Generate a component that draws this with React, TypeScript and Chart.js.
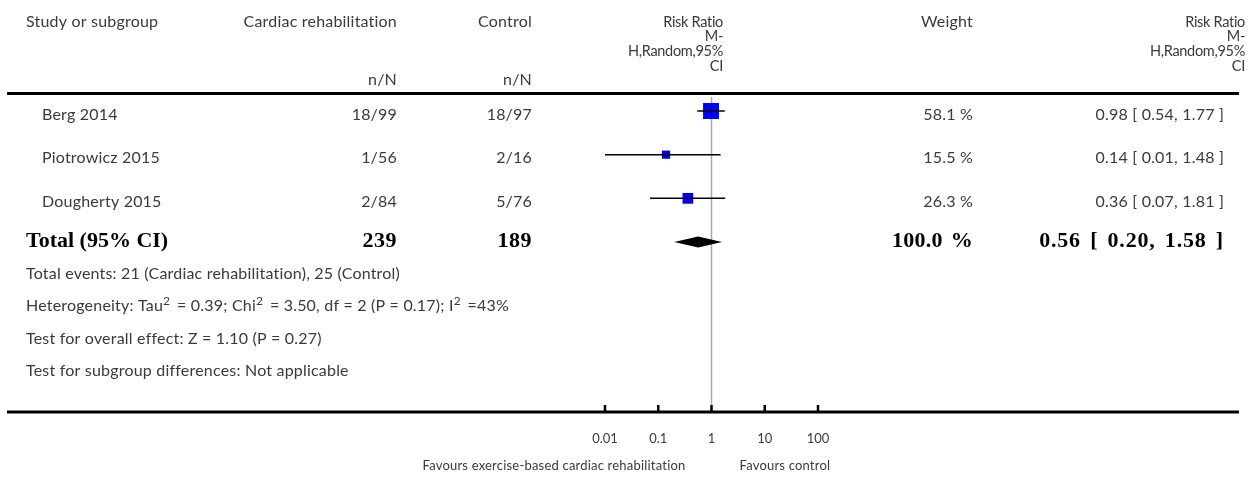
import { useEffect, useRef } from "react";
import { Chart, registerables } from "chart.js";

Chart.register(...registerables);

// Study-level data
const studies = ["Berg 2014", "Piotrowicz 2015", "Dougherty 2015"];
const rehabEvents = [18, 1, 2];
const rehabTotals = [99, 56, 84];
const controlEvents = [18, 2, 5];
const controlTotals = [97, 16, 76];
const weights = [58.1, 15.5, 26.3];
const riskRatios = [0.98, 0.14, 0.36];
const ciLower = [0.54, 0.01, 0.07];
const ciUpper = [1.77, 1.48, 1.81];

// Pooled estimate
const totalRehab = 239;
const totalControl = 189;
const totalWeight = 100.0;
const pooledRR = 0.56;
const pooledLower = 0.2;
const pooledUpper = 1.58;

// Axis
const axisTicks = [0.01, 0.1, 1, 10, 100];
const axisTickLabels = ["0.01", "0.1", "1", "10", "100"];

// Footnotes; "^" marks a superscript run
const footnotes = [
  "Total events: 21 (Cardiac rehabilitation), 25 (Control)",
  "Heterogeneity: Tau^2^ = 0.39; Chi^2^ = 3.50, df = 2 (P = 0.17); I^2^ =43%",
  "Test for overall effect: Z = 1.10 (P = 0.27)",
  "Test for subgroup differences: Not applicable",
];

const SANS = "Lato, 'DejaVu Sans', sans-serif";
const SERIF = "'Liberation Serif', 'DejaVu Serif', serif";
const TEXT = "#3a3a3a";

const fmtRR = (v: number, lo: number, hi: number) =>
  `${v.toFixed(2)} [ ${lo.toFixed(2)}, ${hi.toFixed(2)} ]`;

const forestTable = {
  id: "forestTable",
  beforeDatasetsDraw(chart: any) {
    const { ctx, chartArea, scales } = chart;
    const px = scales.x.getPixelForValue(1);
    ctx.save();
    ctx.strokeStyle = "#aaaaaa";
    ctx.lineWidth = 1.5;
    ctx.beginPath();
    ctx.moveTo(px, chartArea.top);
    ctx.lineTo(px, chartArea.bottom);
    ctx.stroke();
    ctx.restore();
  },
  afterDatasetsDraw(chart: any) {
    const { ctx, chartArea, scales } = chart;
    const xs = scales.x;
    const ys = scales.y;
    ctx.save();

    // estimate markers inside the boxes
    ctx.strokeStyle = "#000";
    ctx.lineWidth = 1;
    riskRatios.forEach((v, i) => {
      const px = xs.getPixelForValue(v);
      const py = ys.getPixelForValue(i);
      ctx.beginPath();
      ctx.moveTo(px, py - 3);
      ctx.lineTo(px, py + 3);
      ctx.stroke();
    });

    // pooled diamond
    const dy = ys.getPixelForValue(studies.length);
    ctx.fillStyle = "#000";
    ctx.beginPath();
    ctx.moveTo(xs.getPixelForValue(pooledLower), dy);
    ctx.lineTo(xs.getPixelForValue(pooledRR), dy - 5.5);
    ctx.lineTo(xs.getPixelForValue(pooledUpper), dy);
    ctx.lineTo(xs.getPixelForValue(pooledRR), dy + 5.5);
    ctx.closePath();
    ctx.fill();

    // horizontal rules
    ctx.strokeStyle = "#000";
    ctx.lineWidth = 3;
    ctx.beginPath();
    ctx.moveTo(7, 93.5);
    ctx.lineTo(1239, 93.5);
    ctx.moveTo(7, chartArea.bottom);
    ctx.lineTo(1239, chartArea.bottom);
    ctx.stroke();

    // axis tick marks
    ctx.lineWidth = 2.5;
    axisTicks.forEach((t) => {
      const px = xs.getPixelForValue(t);
      ctx.beginPath();
      ctx.moveTo(px, chartArea.bottom - 7);
      ctx.lineTo(px, chartArea.bottom);
      ctx.stroke();
    });

    const text = (
      s: string,
      x: number,
      y: number,
      align: CanvasTextAlign,
      font: string,
      color = TEXT,
      spacing = "0.2px",
      wordSpacing = "0px"
    ) => {
      ctx.font = font;
      ctx.fillStyle = color;
      ctx.textAlign = align;
      ctx.textBaseline = "middle";
      (ctx as any).letterSpacing = spacing;
      (ctx as any).wordSpacing = wordSpacing;
      ctx.fillText(s, x, y);
    };

    // left-aligned line with ^superscript^ runs
    const richText = (s: string, x: number, y: number, size: number) => {
      const parts = s.split("^");
      let cx = x;
      parts.forEach((p, k) => {
        const sup = k % 2 === 1;
        const font = `${sup ? Math.round(size * 0.78) : size}px ${SANS}`;
        text(p, cx, sup ? y - 5 : y, "left", font);
        cx += ctx.measureText(p).width + (sup ? 2.5 : 0);
      });
    };

    const size = 16;
    const head = `${size}px ${SANS}`;
    // header
    text("Study or subgroup", 26, 22, "left", head);
    text("Cardiac rehabilitation", 397, 22, "right", head);
    text("Control", 532, 22, "right", head);
    text("n/N", 397, 80, "right", head);
    text("n/N", 532, 80, "right", head);
    const rrHead = ["Risk Ratio", "M-", "H,Random,95%", "CI"];
    rrHead.forEach((s, k) => {
      text(s, 723, 22 + k * 14.7, "right", `14.5px ${SANS}`, TEXT, "-0.3px");
      text(s, 1245, 22 + k * 14.7, "right", `14.5px ${SANS}`, TEXT, "-0.3px");
    });
    text("Weight", 973, 22, "right", head);

    // study rows
    studies.forEach((name, i) => {
      const y = ys.getPixelForValue(i) + 3.5;
      text(name, 42, y, "left", head);
      text(`${rehabEvents[i]}/${rehabTotals[i]}`, 397, y, "right", head);
      text(`${controlEvents[i]}/${controlTotals[i]}`, 532, y, "right", head);
      text(`${weights[i].toFixed(1)} %`, 973, y, "right", head);
      text(fmtRR(riskRatios[i], ciLower[i], ciUpper[i]), 1224, y, "right", head);
    });

    // total row
    const bold = `bold 22px ${SERIF}`;
    const ty = ys.getPixelForValue(studies.length) - 1;
    text("Total (95% CI)", 26, ty, "left", bold, "#000", "0px");
    text(String(totalRehab), 397, ty, "right", bold, "#000", "0.5px");
    text(String(totalControl), 532, ty, "right", bold, "#000", "0.5px");
    text(`${totalWeight.toFixed(1)} %`, 973, ty, "right", bold, "#000", "0.3px", "2px");
    text(fmtRR(pooledRR, pooledLower, pooledUpper), 1224, ty, "right", bold, "#000", "0.8px", "3px");

    // footnotes
    const footY = [274, 306, 339, 371];
    footnotes.forEach((s, k) => richText(s, 26, footY[k], size));

    // favours labels
    const one = xs.getPixelForValue(1);
    text("Favours exercise-based cardiac rehabilitation", one - 26, 466, "right", `13px ${SANS}`);
    text("Favours control", one + 28, 466, "left", `13px ${SANS}`);

    ctx.restore();
  },
};

export default function App() {
  const ref = useRef<HTMLCanvasElement | null>(null);

  useEffect(() => {
    if (!ref.current) return;
    const ciLines = studies.map((_, i) => ({
      type: "line" as const,
      data: [
        { x: ciLower[i], y: i },
        { x: ciUpper[i], y: i },
      ],
      borderColor: "#000",
      borderWidth: 1.5,
      pointRadius: 0,
      clip: false as any,
      order: 0,
    }));
    const boxes = {
      type: "scatter" as const,
      data: riskRatios.map((v, i) => ({ x: v, y: i })),
      pointStyle: "rect",
      pointRadius: weights.map((w) => 1.48 * Math.sqrt(w)),
      backgroundColor: "#0000ff",
      borderWidth: 0,
      clip: false as any,
      order: 1,
    };

    const chart = new Chart(ref.current, {
      type: "scatter",
      data: { datasets: [...ciLines, boxes] as any },
      options: {
        animation: false,
        responsive: false,
        events: [],
        layout: { padding: { left: 605, right: 435, top: 97, bottom: 0 } },
        plugins: { legend: { display: false }, tooltip: { enabled: false } },
        scales: {
          x: {
            type: "logarithmic",
            min: 0.01,
            max: 100,
            afterBuildTicks: (scale: any) => {
              scale.ticks = axisTicks.map((v) => ({ value: v }));
            },
            afterFit: (scale: any) => {
              scale.height = 66;
            },
            border: { display: false },
            grid: { display: false, drawTicks: false },
            ticks: {
              autoSkip: false,
              maxRotation: 0,
              padding: 19,
              color: TEXT,
              font: { family: SANS, size: 13 },
              callback: (_v: any, idx: number) => axisTickLabels[idx],
            },
          },
          y: {
            type: "linear",
            min: -0.32,
            max: 6.89,
            reverse: true,
            display: false,
          },
        },
      },
      plugins: [forestTable],
    });
    return () => chart.destroy();
  }, []);

  return (
    <div style={{ position: "absolute", left: 0, top: 0, width: 1253, height: 478, background: "#fff" }}>
      <canvas ref={ref} width={1253} height={478} style={{ display: "block" }} />
    </div>
  );
}
